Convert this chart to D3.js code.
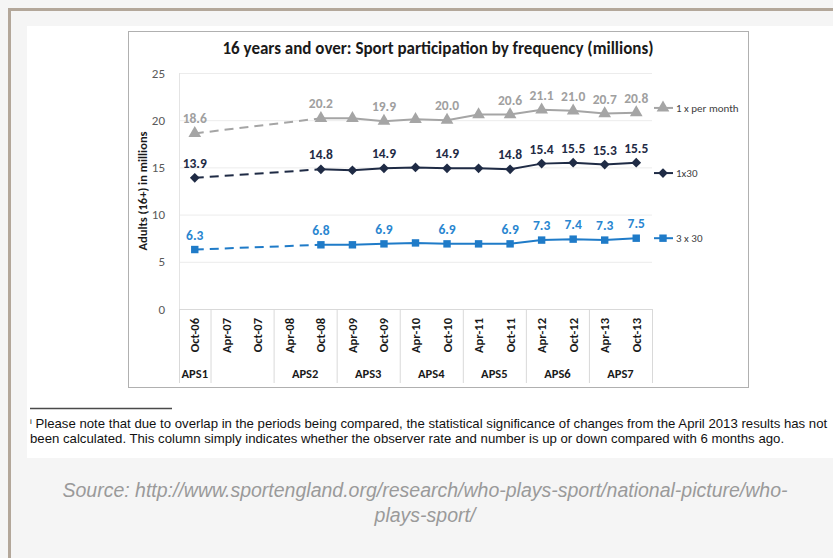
<!DOCTYPE html>
<html>
<head>
<meta charset="utf-8">
<script src="https://cdn.jsdelivr.net/npm/d3@7"></script>
<style>
  body { margin: 0; background: #f5f5f5; }
  svg { display: block; }
</style>
</head>
<body>
<svg width="833" height="558"></svg>
<script>
var svg = d3.select("svg"),
    width = +svg.attr("width"),
    height = +svg.attr("height");

// ---- data ----
var categories = ["Oct-06", "Apr-07", "Oct-07", "Apr-08", "Oct-08", "Apr-09", "Oct-09",
                  "Apr-10", "Oct-10", "Apr-11", "Oct-11", "Apr-12", "Oct-12", "Apr-13", "Oct-13"];
var surveyGroups = ["APS1", "", "APS2", "APS3", "APS4", "APS5", "APS6", "APS7"];
var groupSizes = [1, 2, 2, 2, 2, 2, 2, 2];

var seriesNames = ["1 x per month", "1x30", "3 x 30"];
var oncePerMonth = [18.6, null, null, null, 20.2, 20.2, 19.9, 20.1, 20.0, 20.6, 20.6, 21.1, 21.0, 20.7, 20.8];
var oneByThirty = [13.9, null, null, null, 14.8, 14.7, 14.9, 15.0, 14.9, 14.9, 14.8, 15.4, 15.5, 15.3, 15.5];
var threeByThirty = [6.3, null, null, null, 6.8, 6.8, 6.9, 7.0, 6.9, 6.9, 6.9, 7.3, 7.4, 7.3, 7.5];
var labelled = ["Oct-06", "Oct-08", "Oct-09", "Oct-10", "Oct-11", "Apr-12", "Oct-12", "Apr-13", "Oct-13"];
var legendAt = [21.3, 14.4, 7.5];   // value level where each end label sits
var yTicks = [0, 5, 10, 15, 20, 25];

var colors = ["#a5a5a5", "#1f2b45", "#1f7bc8"];
var labelColors = ["#a0a0a0", "#1f2b45", "#2a86d0"];
var symbols = [d3.symbolTriangle, d3.symbolDiamond2, d3.symbolSquare];
var symSizes = [70, 60, 55];
var allSeries = [oncePerMonth, oneByThirty, threeByThirty];

var font = "Carlito, Calibri, Lato, sans-serif";

// ---- page frame ----
svg.append("rect").attr("x", 8).attr("y", 8).attr("width", width - 8).attr("height", height - 8)
    .attr("fill", "#f5f5f5");
svg.append("rect").attr("x", 8).attr("y", 8).attr("width", width - 8).attr("height", 3).attr("fill", "#b3a79a");
svg.append("rect").attr("x", 8).attr("y", 8).attr("width", 3).attr("height", height - 8).attr("fill", "#b3a79a");
svg.append("rect").attr("x", 27).attr("y", 26).attr("width", width - 27).attr("height", 432).attr("fill", "#fff");

// chart box
svg.append("rect").attr("x", 128.5).attr("y", 31.5).attr("width", 620).attr("height", 356)
    .attr("fill", "#fff").attr("stroke", "#b0b0b0").attr("stroke-width", 1);

svg.append("text")
    .attr("x", 438).attr("y", 54)
    .attr("text-anchor", "middle")
    .style("font-family", font).style("font-weight", "bold").style("font-size", "17px")
    .attr("fill", "#1a1a1a")
    .text("16 years and over: Sport participation by frequency (millions)");

// ---- scales ----
var x = d3.scaleBand().domain(categories).range([179, 652]);
var y = d3.scaleLinear().domain([0, 25]).range([309, 73]);
function cx(c) { return x(c) + x.bandwidth() / 2; }

// gridlines
svg.append("g").selectAll("line")
    .data(yTicks.slice(1))
    .enter().append("line")
      .attr("x1", 179).attr("x2", 652)
      .attr("y1", function(d) { return y(d) + 0.5; })
      .attr("y2", function(d) { return y(d) + 0.5; })
      .attr("stroke", "#ececec");

svg.append("line").attr("x1", 179.5).attr("x2", 179.5).attr("y1", y(25)).attr("y2", y(0))
    .attr("stroke", "#e4e4e4");

// y axis
var yAxis = svg.append("g")
    .attr("transform", "translate(179,0)")
    .call(d3.axisLeft(y).tickValues(yTicks).tickSize(0).tickPadding(14));
yAxis.select(".domain").remove();
yAxis.selectAll("text")
    .style("font-family", font).style("font-size", "13px").attr("fill", "#595959");

svg.append("text")
    .attr("transform", "translate(147," + 191 + ") rotate(-90)")
    .attr("text-anchor", "middle")
    .style("font-family", font).style("font-weight", "bold").style("font-size", "12.5px")
    .attr("fill", "#1a1a1a")
    .text("Adults (16+) in millions");

// x axis (baseline + rotated labels)
var xAxis = svg.append("g")
    .attr("transform", "translate(0," + y(0) + ")")
    .call(d3.axisBottom(x).tickSize(0).tickPadding(0));
xAxis.select(".domain").attr("stroke", "#d9d9d9");
xAxis.selectAll("text")
    .attr("transform", "translate(4.5,9) rotate(-90)")
    .attr("dy", 0)
    .attr("text-anchor", "end")
    .style("font-family", font).style("font-weight", "bold").style("font-size", "12.5px")
    .attr("fill", "#1a1a1a");

// survey group separators and labels
var bounds = [0];
groupSizes.forEach(function(n, i) { bounds.push(bounds[i] + n); });
var step = x.step();
svg.append("g").selectAll("line")
    .data(bounds)
    .enter().append("line")
      .attr("x1", function(d) { return 179 + d * step + 0.5; })
      .attr("x2", function(d) { return 179 + d * step + 0.5; })
      .attr("y1", y(0)).attr("y2", 383)
      .attr("stroke", "#d9d9d9");

svg.append("g").selectAll("text")
    .data(surveyGroups)
    .enter().append("text")
      .attr("x", function(d, i) { return 179 + (bounds[i] + groupSizes[i] / 2) * step; })
      .attr("y", 378)
      .attr("text-anchor", "middle")
      .style("font-family", font).style("font-weight", "bold").style("font-size", "12.5px")
      .attr("fill", "#1a1a1a")
      .text(function(d) { return d; });

// ---- series ----
var line = d3.line()
    .defined(function(d) { return d.v != null; })
    .x(function(d) { return cx(d.c); })
    .y(function(d) { return y(d.v); });

allSeries.forEach(function(vals, s) {
  var pts = categories.map(function(c, i) { return {c: c, v: vals[i]}; });
  var known = pts.filter(function(d) { return d.v != null; });
  var g = svg.append("g");

  // dashed gap between APS1 and APS2
  g.append("path")
      .datum([known[0], known[1]])
      .attr("d", line)
      .attr("fill", "none").attr("stroke", colors[s]).attr("stroke-width", 2)
      .attr("stroke-dasharray", "9,6");

  g.append("path")
      .datum(known.slice(1))
      .attr("d", line)
      .attr("fill", "none").attr("stroke", colors[s]).attr("stroke-width", 2);

  g.selectAll("path.m")
      .data(known)
      .enter().append("path")
        .attr("class", "m")
        .attr("transform", function(d) { return "translate(" + cx(d.c) + "," + y(d.v) + ")"; })
        .attr("d", d3.symbol().type(symbols[s]).size(symSizes[s]))
        .attr("fill", colors[s]);

  g.selectAll("text")
      .data(known.filter(function(d) { return labelled.indexOf(d.c) >= 0; }))
      .enter().append("text")
        .attr("x", function(d) { return cx(d.c); })
        .attr("y", function(d) { return y(d.v) - 10; })
        .attr("text-anchor", "middle")
        .style("font-family", font).style("font-weight", "bold").style("font-size", "13.5px")
        .attr("fill", labelColors[s])
        .text(function(d) { return d.v.toFixed(1); });

  // end label
  var ly = y(legendAt[s]);
  g.append("line").attr("x1", 654).attr("x2", 673).attr("y1", ly).attr("y2", ly)
      .attr("stroke", colors[s]).attr("stroke-width", 2);
  g.append("path")
      .attr("transform", "translate(663," + ly + ")")
      .attr("d", d3.symbol().type(symbols[s]).size(symSizes[s]))
      .attr("fill", colors[s]);
  g.append("text")
      .attr("x", 676).attr("y", ly + 4)
      .style("font-family", font).style("font-size", "11px")
      .attr("fill", "#404040")
      .text(seriesNames[s]);
});

// ---- footnote and source ----
svg.append("line").attr("x1", 30).attr("x2", 172).attr("y1", 408.5).attr("y2", 408.5)
    .attr("stroke", "#4a4a4a").attr("stroke-width", 1.5);

var note = svg.append("g")
    .style("font-family", "'Liberation Sans Narrow', 'Arial Narrow', 'Liberation Sans', sans-serif")
    .style("font-size", "13.2px").attr("fill", "#111");
var n1 = note.append("text").attr("x", 30).attr("y", 428);
n1.append("tspan").attr("dy", -4).style("font-size", "8px").text("i");
n1.append("tspan").attr("dy", 4)
    .text(" Please note that due to overlap in the periods being compared, the statistical significance of changes from the April 2013 results has not");
note.append("text").attr("x", 30).attr("y", 443)
    .text("been calculated. This column simply indicates whether the observer rate and number is up or down compared with 6 months ago.");

var src = svg.append("g")
    .attr("text-anchor", "middle")
    .style("font-family", "'Liberation Sans', Arial, sans-serif")
    .style("font-style", "italic").style("font-size", "19.5px").attr("fill", "#9a9a9a");
src.append("text").attr("x", 425).attr("y", 497)
    .text("Source: http://www.sportengland.org/research/who-plays-sport/national-picture/who-");
src.append("text").attr("x", 425).attr("y", 522).text("plays-sport/");
</script>
</body>
</html>
